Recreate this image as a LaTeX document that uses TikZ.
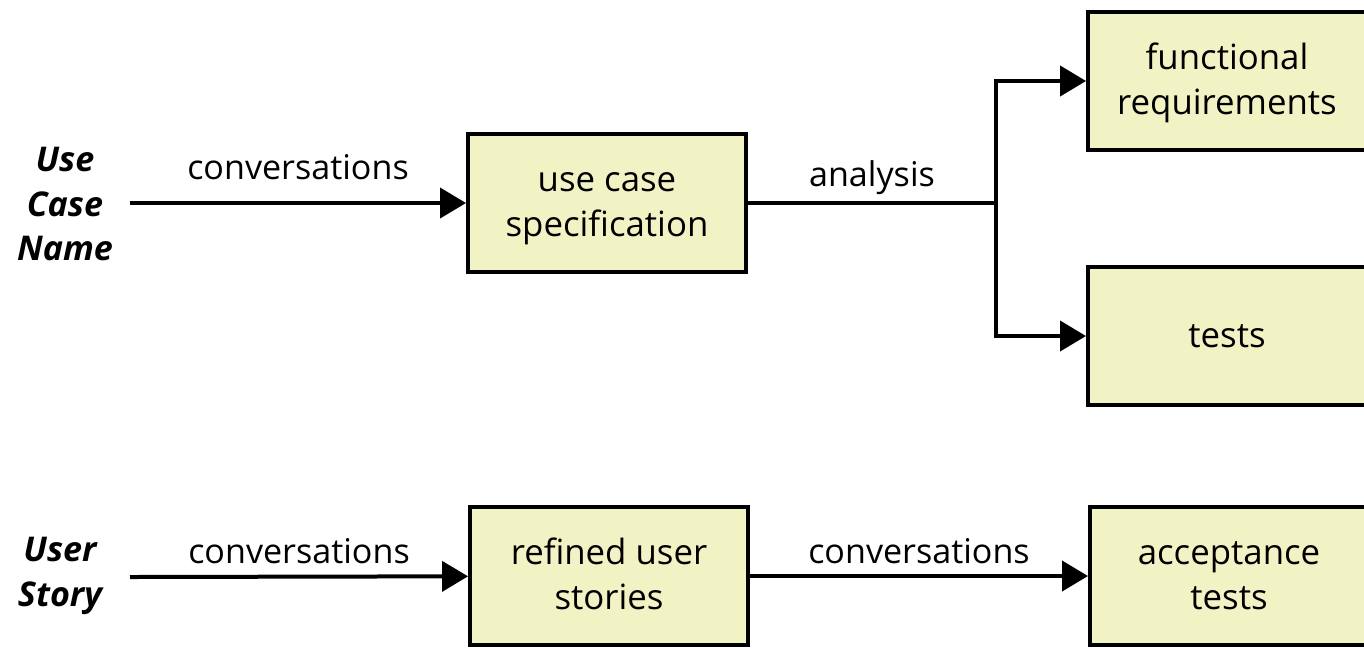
\documentclass[tikz,border=0pt]{standalone}
\usepackage{fontspec}
\setmainfont{Open Sans}
\usetikzlibrary{arrows.meta}
\definecolor{boxfill}{RGB}{242,243,196}

\begin{document}
\begin{tikzpicture}[x=0.02cm, y=-0.02cm, >={Triangle[length=0.52cm,width=0.6cm]}, line width=0.08cm,
  every node/.style={font=\fontsize{19.4}{25.6}\selectfont},
  box/.style={draw, fill=boxfill, minimum width=5.56cm, minimum height=2.76cm, align=center, inner sep=0pt,
    font=\fontsize{19.8}{25.2}\selectfont, text height=42.6pt, text depth=5pt},
  lbl/.style={font=\fontsize{19.4}{25.6}\selectfont\bfseries\itshape, align=center},
  tag/.style={midway, anchor=base, inner sep=0pt}]
\useasboundingbox (0,0) rectangle (1364,647);

\node[box] (spec) at (607,203) {use case\\specification};
\node[box] (func) at (1227,81) {functional\\requirements};
\node[box, text height=18.5pt] (tests) at (1227,336) {tests};
\node[box] (refined) at (609,576) {refined user\\stories};
\node[box] (accept) at (1229,576) {acceptance\\tests};

\node[lbl] (ucname) at (65,204) {Use\\Case\\Name};
\node[lbl] (ustory) at (60,576) {User\\Story};

\coordinate (ucstart) at (130,203);
\coordinate (usstart) at (130,577);
\coordinate (split) at (996,203);

\draw[->] (ucstart) -- node[tag, yshift=0.47cm] {conversations} (spec);
\draw (spec) -- node[tag, yshift=0.33cm] {analysis} (split);
\draw[->] (split) |- (func);
\draw[->] (split) |- (tests);

\draw[->] (usstart) -- node[tag, yshift=0.26cm] {conversations} (refined);
\draw[->] (refined) -- node[tag, yshift=0.26cm] {conversations} (accept);
\end{tikzpicture}
\end{document}
